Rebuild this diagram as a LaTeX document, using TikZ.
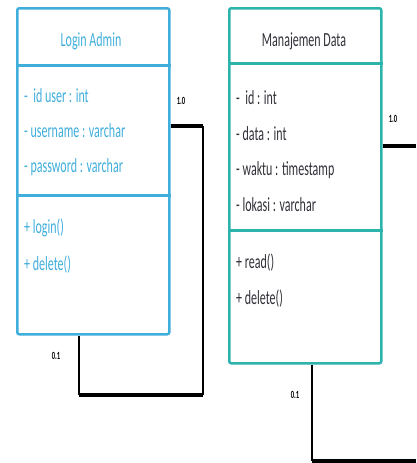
\documentclass[tikz,border=0pt]{standalone}
\usepackage{fontspec}
\setmainfont{Carlito}
\newfontfamily\umlfont{Carlito}[FakeStretch=0.6]
\usepackage{tikz}
\usetikzlibrary{positioning}

\definecolor{adminblue}{HTML}{3FAEDB}
\definecolor{datateal}{HTML}{2BB3AC}
\definecolor{datatext}{HTML}{303038}

\begin{document}
\begin{tikzpicture}[
    x=1pt, y=-1pt,
    umlbox/.style={draw=#1, line width=2.5pt, rounded corners=2pt, inner sep=0pt},
    divider/.style={draw=#1, line width=3pt},
    member/.style={anchor=base west, inner sep=0pt, font=\umlfont\fontsize{20}{22}\selectfont},
    title/.style={anchor=base, inner sep=0pt, font=\umlfont\fontsize{20}{22}\selectfont},
    mult/.style={inner sep=0pt, font=\umlfont\fontsize{11}{12}\selectfont\bfseries},
    thickline/.style={line width=4pt},
    thinline/.style={line width=2pt}
]
    \useasboundingbox (0,0) rectangle (416,463);

    % Login Admin
    \node[umlbox=adminblue, minimum width=152, minimum height=326, anchor=north west] (admin) at (16,7) {};
    \draw[divider=adminblue] (admin.west |- 0,65) -- (admin.east |- 0,65);
    \draw[divider=adminblue] (admin.west |- 0,195) -- (admin.east |- 0,195);
    \node[title, text=adminblue] (adminname) at (91,46) {Login Admin};
    \node[member, text=adminblue] (aid) at (24,102) {-~~id user : int};
    \node[member, text=adminblue] (auser) at (24,137) {- username : varchar};
    \node[member, text=adminblue] (apass) at (24,172) {- password : varchar};
    \node[member, text=adminblue] (alogin) at (24,233) {+ login()};
    \node[member, text=adminblue] (adelete) at (24,270) {+ delete()};

    % Manajemen Data
    \node[umlbox=datateal, minimum width=152, minimum height=355, anchor=north west] (data) at (228,7) {};
    \draw[divider=datateal] (data.west |- 0,63) -- (data.east |- 0,63);
    \draw[divider=datateal] (data.west |- 0,230) -- (data.east |- 0,230);
    \node[title, text=datatext] (dataname) at (304,46) {Manajemen Data};
    \node[member, text=datatext] (did) at (236,104) {-~~id : int};
    \node[member, text=datatext] (ddata) at (236,140) {- data : int};
    \node[member, text=datatext] (dwaktu) at (236,175) {- waktu : timestamp};
    \node[member, text=datatext] (dlokasi) at (236,211) {- lokasi : varchar};
    \node[member, text=datatext] (dread) at (236,268) {+ read()};
    \node[member, text=datatext] (ddelete) at (236,304) {+ delete()};

    % relation of Login Admin
    \coordinate (a1) at (203,126);
    \coordinate (a2) at (203,395);
    \coordinate (a3) at (79,395);
    \draw[thickline] (admin.east |- a1) -- (a1);
    \draw[thinline] (a1) -- (a2);
    \draw[thickline] (a2) -- (a3);
    \draw[thinline] (a3) -- (admin.south -| a3);
    \node[mult] (aone) at (181,101) {1.0};
    \node[mult] (azero) at (56,356) {0.1};

    % relation of Manajemen Data
    \coordinate (d1) at (416,146);
    \coordinate (d2) at (312,461);
    \coordinate (d3) at (416,461);
    \draw[thickline] (data.east |- d1) -- (d1);
    \draw[thinline] (data.south -| d2) -- (d2);
    \draw[thickline] (d2) -- (d3);
    \node[mult] (done) at (393,119) {1.0};
    \node[mult] (dzero) at (295,395) {0.1};
\end{tikzpicture}
\end{document}
